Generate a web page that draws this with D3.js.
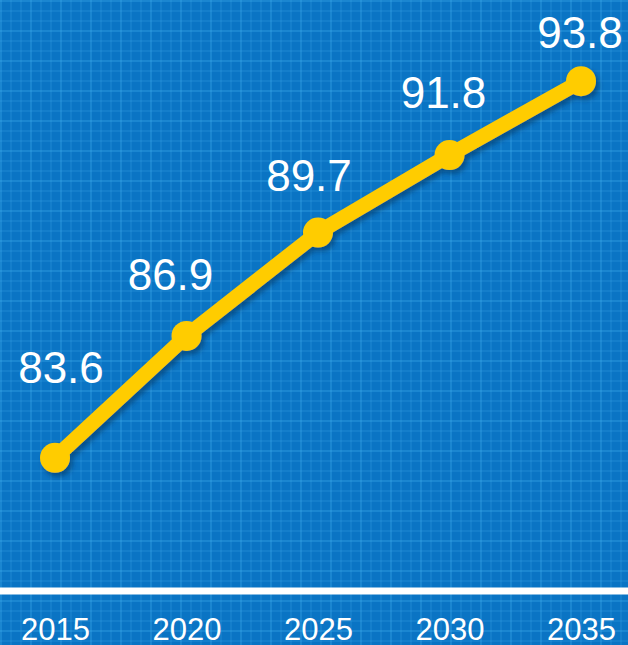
<!DOCTYPE html>
<html>
<head>
<meta charset="utf-8">
<script src="https://cdn.jsdelivr.net/npm/d3@7"></script>
<style>
  html, body { margin: 0; padding: 0; background: #0a74c4; }
  svg { display: block; }
</style>
</head>
<body>
<div id="chart"></div>
<script>
const years = ["2015", "2020", "2025", "2030", "2035"];
const values = [83.6, 86.9, 89.7, 91.8, 93.8];
const valueLabels = ["83.6", "86.9", "89.7", "91.8", "93.8"];

const width = 628;
const height = 645;
const baseY = 591;
// label nudges relative to point (layout only)
const labelDx = [6, -16, -9, -6, -1];
const labelDy = [-75, -46, -42, -47, -33];

const svg = d3.select("#chart").append("svg").attr("width", width).attr("height", height);

const defs = svg.append("defs");
const shadow = defs.append("filter").attr("id", "shadow").attr("x", "-20%").attr("y", "-20%").attr("width", "140%").attr("height", "140%");
shadow.append("feDropShadow").attr("dx", 3).attr("dy", 4).attr("stdDeviation", 2.5)
  .attr("flood-color", "#06305a").attr("flood-opacity", 0.55);

// blueprint background
svg.append("rect").attr("width", width).attr("height", height).attr("fill", "#0a74c4");
const grid = svg.append("g").attr("class", "grid");
grid.selectAll("line.v").data(d3.range(1, width, 10)).enter().append("line")
  .attr("x1", (d) => d).attr("x2", (d) => d).attr("y1", 0).attr("y2", height)
  .attr("stroke", "#45b0ef").attr("stroke-opacity", (d, i) => (i % 3 === 0 ? 0.6 : 0.35)).attr("stroke-width", 1);
grid.selectAll("line.h").data(d3.range(1, height, 10)).enter().append("line")
  .attr("y1", (d) => d).attr("y2", (d) => d).attr("x1", 0).attr("x2", width)
  .attr("stroke", "#45b0ef").attr("stroke-opacity", (d, i) => (i % 3 === 0 ? 0.6 : 0.35)).attr("stroke-width", 1);

const x = d3.scalePoint().domain(years).range([55, 581]);
const y = d3.scaleLinear().domain([80.1, 96]).range([587, 0]);

// baseline
svg.append("line").attr("x1", 0).attr("x2", width).attr("y1", baseY).attr("y2", baseY)
  .attr("stroke", "#ffffff").attr("stroke-width", 7);

const xAxis = d3.axisBottom(x).tickSize(0).tickPadding(0);
const xAxis_g = svg.append("g").attr("transform", `translate(0, 612)`).call(xAxis);
xAxis_g.select(".domain").remove();
xAxis_g.selectAll("text")
  .attr("fill", "#ffffff")
  .attr("font-family", "'Liberation Sans', Arial, sans-serif")
  .attr("font-size", 31)
  .attr("dy", "0.9em");

const line = d3.line().x((d, i) => x(years[i])).y((d) => y(d));
const series = svg.append("g").attr("filter", "url(#shadow)");
series.append("path").datum(values).attr("d", line)
  .attr("fill", "none").attr("stroke", "#ffcc00").attr("stroke-width", 15)
  .attr("stroke-linejoin", "round");
series.selectAll("circle").data(values).enter().append("circle")
  .attr("cx", (d, i) => x(years[i])).attr("cy", (d) => y(d)).attr("r", 15)
  .attr("fill", "#ffcc00");

svg.selectAll("text.val").data(values).enter().append("text")
  .attr("class", "val")
  .attr("x", (d, i) => x(years[i]) + labelDx[i])
  .attr("y", (d, i) => y(d) + labelDy[i])
  .attr("text-anchor", "middle")
  .attr("fill", "#ffffff")
  .attr("font-family", "'Liberation Sans', Arial, sans-serif")
  .attr("font-size", 44)
  .text((d, i) => valueLabels[i]);
</script>
</body>
</html>
